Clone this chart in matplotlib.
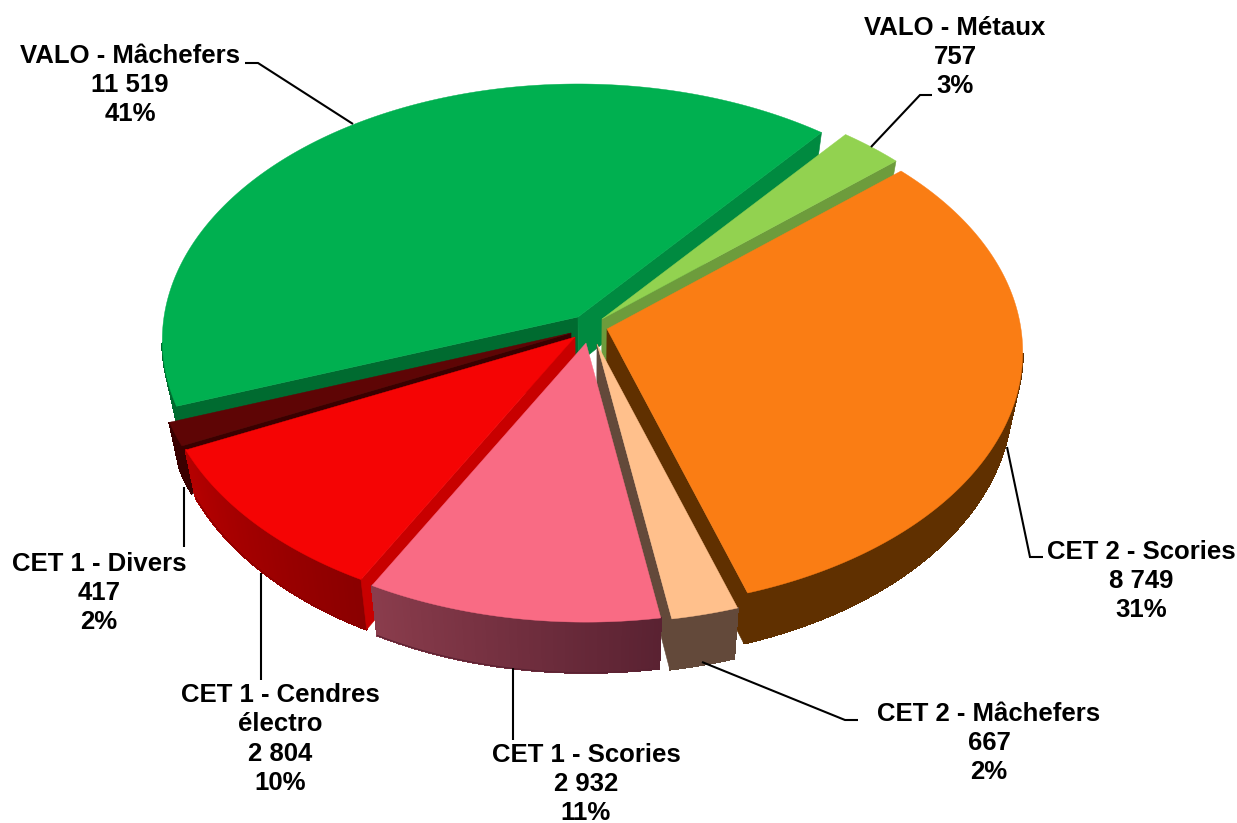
import numpy as np
import matplotlib
matplotlib.use("Agg")
import matplotlib.pyplot as plt
from matplotlib.patches import Polygon
from matplotlib.colors import to_rgb

# ---- data (clockwise order, starting at VALO - Métaux)
names = ["VALO - Métaux", "CET 2 - Scories", "CET 2 - Mâchefers", "CET 1 - Scories",
         "CET 1 - Cendres\nélectro", "CET 1 - Divers", "VALO - Mâchefers"]
values = [757, 8749, 667, 2932, 2804, 417, 11519]
value_labels = ["757", "8 749", "667", "2 932", "2 804", "417", "11 519"]
percent_labels = ["3%", "31%", "2%", "11%", "10%", "2%", "41%"]

# ---- styles
top_colors = ["#92D250", "#FA7D14", "#FFC08C", "#F96B84", "#F50404", "#5E0505", "#00B050"]
wall_from = ["#6D9C3C", "#603000", "#63493A", "#5A2232", "#8A0000", "#3A0000", "#006B30"]
wall_to = ["#6D9C3C", "#603000", "#63493A", "#8A3C4C", "#B40000", "#3A0000", "#006B30"]
start_face = ["#6D9C3C", "#603000", "#63493A", "#5A2232", "#C80000", "#3A0000", "#006B30"]
end_face = ["#6D9C3C", "#603000", "#63493A", "#5A2232", "#C80000", "#3A0000", "#008A40"]
tips = [(602, 319), (607, 329), (597, 344), (586, 343), (575, 337), (571, 333), (578, 317)]
draw_order = [6, 0, 5, 1, 4, 2, 3]
START_DEG = 39.0
RX, RY, K, DEPTH, X0, SHRINK = 414, 254, 0.09, 46, 590, 0.975

label_pos = [(955, 57), (1141, 581), (989, 743), (586, 784), (280, 739), (99, 593), (130, 85)]
leaders = [[(932, 95), (920, 95), (871, 147)],
           [(1043, 557), (1030, 557), (1007, 447)],
           [(858, 720), (845, 720), (702, 662)],
           [(513, 668), (513, 740)],
           [(261, 573), (261, 680)],
           [(184, 487), (184, 547)],
           [(245, 63), (258, 63), (353, 124)]]

plt.rcParams["font.family"] = ["Liberation Sans", "DejaVu Sans"]
fig = plt.figure(figsize=(12.37, 8.23), dpi=100)
ax = fig.add_axes([0, 0, 1, 1])
ax.set_xlim(0, 1237)
ax.set_ylim(823, 0)
ax.axis("off")


def project(theta, tip):
    """Top-face point for clockwise angle theta (radians), perspective ellipse."""
    u, v = np.sin(theta), np.cos(theta)
    w = 1 + K * v
    return tip[0] + RX * u / w, tip[1] - RY * v / w


def lower(x, y, w):
    return X0 + (x - X0) * SHRINK, y + DEPTH / w


def arc(t0, t1, tip):
    ts = np.radians(np.linspace(t0, t1, max(int((t1 - t0) * 2), 4)))
    xs, ys = project(ts, tip)
    ws = 1 + K * np.cos(ts)
    return ts, xs, ys, ws


total = sum(values)
edges = START_DEG + np.concatenate([[0], np.cumsum(values)]) / total * 360

for i in draw_order:
    t0, t1, tip = edges[i], edges[i + 1], tips[i]
    ts, xs, ys, ws = arc(t0, t1, tip)
    bx, by = lower(xs, ys, ws)
    tbx, tby = lower(tip[0], tip[1], 1)
    mx, my = project(np.radians((t0 + t1) / 2), tip)
    z = 2 + draw_order.index(i)

    # rim wall, shaded along its length; only the part turned to the viewer
    c0, c1 = np.array(to_rgb(wall_from[i])), np.array(to_rgb(wall_to[i]))
    n = len(xs) - 1
    for j in range(n):
        if np.cos((ts[j] + ts[j + 1]) / 2) > -0.10:
            continue
        col = c0 + (c1 - c0) * (j / max(n - 1, 1))
        ax.add_patch(Polygon([(xs[j], ys[j]), (xs[j + 1], ys[j + 1]), (bx[j + 1], by[j + 1]), (bx[j], by[j])],
                             closed=True, fc=col, ec=col, lw=1.0, antialiased=False, zorder=z))
    # soft outline for the lower rim, in place of jagged non-antialiased edge
    front = np.cos(ts) <= -0.10
    if front.any():
        ax.plot(bx[front], by[front], color=wall_from[i], lw=0.8, zorder=z)

    # cut faces, only those turned to the viewer
    for idx, col in ((0, start_face[i]), (-1, end_face[i])):
        ex, ey = xs[idx] - tip[0], ys[idx] - tip[1]
        nx, ny = -ey, ex
        if nx * (mx - tip[0]) + ny * (my - tip[1]) > 0:
            nx, ny = -nx, -ny
        if ny > 0:
            ax.add_patch(Polygon([tip, (xs[idx], ys[idx]), (bx[idx], by[idx]), (tbx, tby)],
                                 closed=True, fc=col, ec=col, lw=0.4, zorder=z + 0.2))

    # top face
    ax.add_patch(Polygon([tip] + list(zip(xs, ys)), closed=True, fc=top_colors[i], ec=top_colors[i],
                         lw=0.3, zorder=z + 0.5))

for pts in leaders:
    p = np.array(pts)
    ax.plot(p[:, 0], p[:, 1], color="black", lw=1.5, zorder=20, solid_capstyle="butt", solid_joinstyle="miter")

for i, (x, y) in enumerate(label_pos):
    ax.text(x, y, f"{names[i]}\n{value_labels[i]}\n{percent_labels[i]}", ha="center", va="center",
            fontsize=18.5, fontweight="bold", color="black", linespacing=1.27, zorder=30)

fig.savefig("out.png", dpi=100, facecolor="white")
